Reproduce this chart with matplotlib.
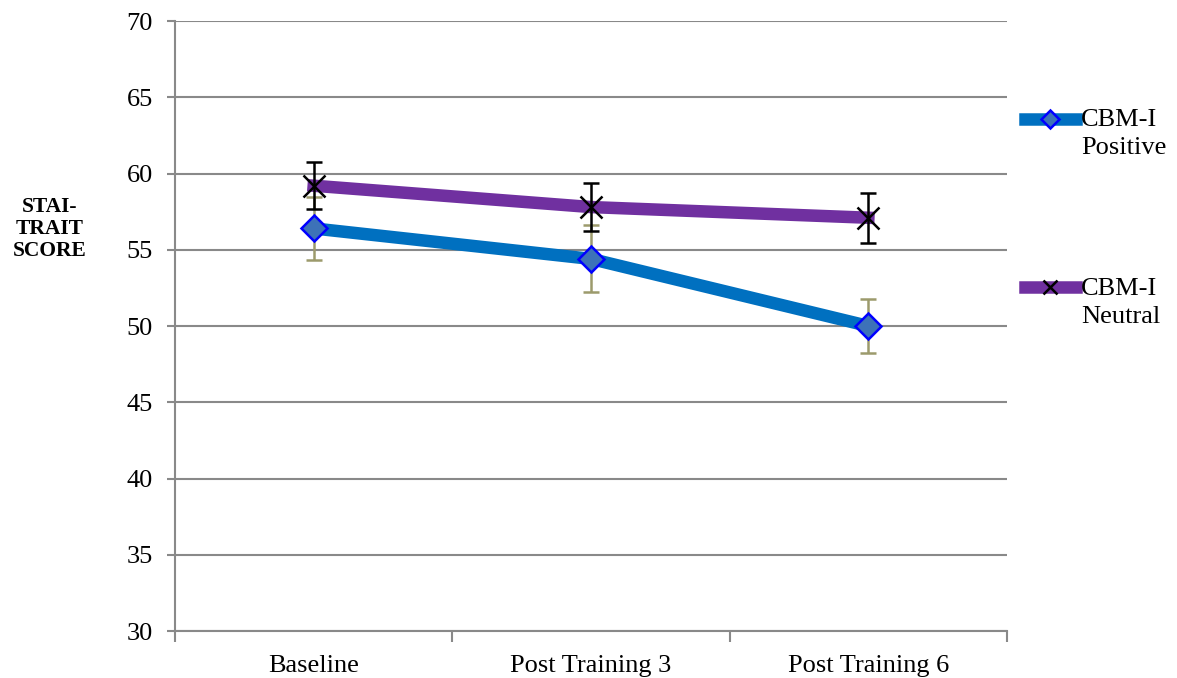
import matplotlib
matplotlib.use('Agg')
import matplotlib.pyplot as plt
from matplotlib.legend_handler import HandlerLine2D
import numpy as np

plt.rcParams['font.family'] = ['Liberation Serif', 'DejaVu Serif']

categories = ['Baseline', 'Post Training 3', 'Post Training 6']
positive = [56.4, 54.4, 50.0]
positive_err = [2.05, 2.2, 1.8]
neutral = [59.2, 57.8, 57.1]
neutral_err = [1.55, 1.55, 1.65]
yticks = np.arange(30, 71, 5)

grey = '#898989'
x = np.arange(len(categories))


class FirstLineHandler(HandlerLine2D):
    # put the legend line next to the first line of a two-line label
    def __init__(self, shift, **kw):
        super().__init__(**kw)
        self.shift = shift

    def create_artists(self, *args, **kw):
        arts = super().create_artists(*args, **kw)
        for a in arts:
            a.set_ydata(np.asarray(a.get_ydata()) + self.shift)
        return arts


fig = plt.figure(figsize=(11.77, 6.78), dpi=100)
ax = fig.add_axes([0.1487, 0.0693, 0.7069, 0.8997])

ax.errorbar(x, positive, yerr=positive_err, fmt='none', ecolor='#9c9a6c',
            elinewidth=1.8, capsize=6, capthick=1.8, zorder=2)
l1, = ax.plot(x, positive, '-D', color='#0070C0', linewidth=9,
              markersize=13.5, markerfacecolor='#3D72B8', markeredgecolor='#0000FF',
              markeredgewidth=1.8, zorder=3, label='CBM-I\nPositive')
l2, = ax.plot(x, neutral, '-x', color='#7030A0', linewidth=9,
              markersize=16, markeredgecolor='black', markeredgewidth=1.8,
              zorder=4, label='CBM-I\nNeutral')
ax.errorbar(x, neutral, yerr=neutral_err, fmt='none', ecolor='black',
            elinewidth=1.8, capsize=6, capthick=1.8, zorder=5)

ax.set_ylim(30, 70)
ax.set_xlim(-0.5, 2.5)
ax.set_yticks(yticks)
ax.yaxis.grid(True, color=grey, linewidth=1.5)
ax.set_axisbelow(True)

ax.set_xticks([-0.5, 0.5, 1.5, 2.5])
ax.set_xticklabels([])
ax.set_xticks(x, minor=True)
ax.set_xticklabels(categories, minor=True)
ax.tick_params(axis='x', which='minor', length=0, pad=17, labelsize=19)
ax.tick_params(axis='x', which='major', length=8, width=1.5, color=grey)
ax.tick_params(axis='y', length=6, width=1.5, color=grey, labelsize=19, pad=10)

for s in ['top', 'right']:
    ax.spines[s].set_visible(False)
for s in ['left', 'bottom']:
    ax.spines[s].set_color(grey)
    ax.spines[s].set_linewidth(1.5)

fig.text(0.0425, 0.662, 'STAI-\nTRAIT\nSCORE', ha='center', va='center',
         fontsize=15.5, fontweight='bold', linespacing=1.15)

hmap = {l1: FirstLineHandler(10.5), l2: FirstLineHandler(10.5)}
leg = fig.legend(handles=[l1, l2], loc='upper left', bbox_to_anchor=(0.8615, 0.855),
                 frameon=False, fontsize=19, handlelength=1.95, handletextpad=0.2,
                 labelspacing=4.5, markerscale=0.65, borderaxespad=0,
                 handler_map=hmap)
for t in leg.get_texts():
    t.set_linespacing(1.35)

fig.savefig('out.png', dpi=100)
